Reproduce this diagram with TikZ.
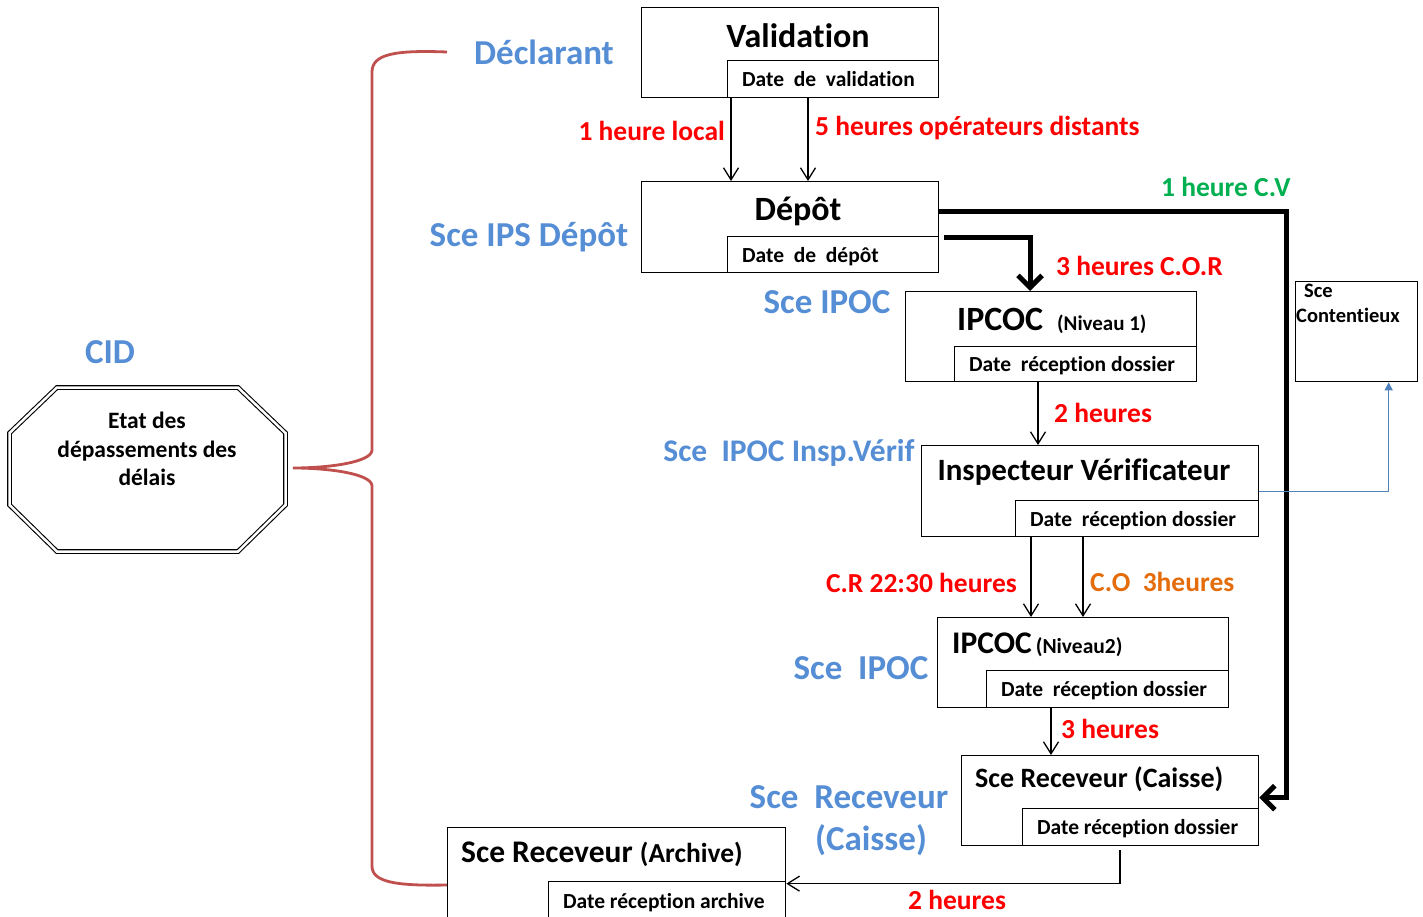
\documentclass[tikz,border=0pt]{standalone}
\usepackage{fontspec}
\setmainfont{Carlito}[Ligatures=NoCommon]
\usetikzlibrary{arrows.meta,positioning}

\definecolor{bracered}{RGB}{192,80,77}
\definecolor{servblue}{RGB}{85,142,213}
\definecolor{delayred}{RGB}{255,0,0}
\definecolor{cvgreen}{RGB}{0,176,80}
\definecolor{coorange}{RGB}{228,108,10}
\definecolor{linkblue}{RGB}{79,129,189}

\tikzset{
  box/.style={draw, line width=1.3pt, anchor=north west, inner sep=0pt},
  datebox/.style={draw, fill=white, line width=1.3pt, anchor=south east, inner xsep=14.5pt, inner ysep=0pt,
    align=flush left, text depth=0pt, font=\bfseries\fontsize{21.5}{24}\selectfont},
  boxtitle/.style={inner sep=0pt, font=\bfseries\fontsize{34}{40}\selectfont},
  service/.style={inner sep=0pt, text=servblue, font=\bfseries\fontsize{35}{40}\selectfont},
  delaylbl/.style={inner sep=0pt, text=delayred, font=\bfseries\fontsize{27.5}{32}\selectfont},
  flow/.style={->, line width=1.3pt},
  heavy/.style={-{Straight Barb[length=12pt,width=24pt]}, line width=5pt},
}

\begin{document}
\begin{tikzpicture}[x=1pt, y=-1pt, >={Straight Barb[length=12pt,width=15pt]}]
\useasboundingbox (0,0) rectangle (1423,917);

% left part: octagon and brace
\draw[double, double distance=2.5pt, line width=1.1pt] (57,387.5) -- (238,387.5) -- (285.5,433) -- (285.5,505) -- (238,551.5) -- (57,551.5) -- (9.5,505) -- (9.5,433) -- cycle;
\node[align=center, inner sep=0pt, font=\bfseries\fontsize{23.5}{28.5}\selectfont] (etat) at (147,449) {Etat des\\dépassements des\\délais};
\node[service] (cid) at (110,352) {CID};
\draw[bracered, line width=2.8pt] (447,52) .. controls (395,50) and (372,54) .. (372,72) -- (372,450) .. controls (372,462) and (330,468) .. (293,468) .. controls (330,468) and (372,474) .. (372,486) -- (372,866) .. controls (372,882) and (395,886) .. (447,885);

% service names
\node[service] (declarant) at (544,52) {Déclarant};
\node[service] (scedep) at (529,237) {Sce IPS Dépôt};
\node[service] (sceipoc) at (827,302) {Sce IPOC};
\node[service, font=\bfseries\fontsize{31.5}{36}\selectfont] (sceinsp) at (789,453) {Sce~~IPOC Insp.Vérif};
\node[service] (sceipoc2) at (861,668) {Sce~~IPOC};
\node[service] (scerec) at (849,797) {Sce~~Receveur};
\node[service] (scecaisse) at (871,840) {(Caisse)};

% boxes
\node[box, minimum width=297pt, minimum height=90pt] (val) at (641,7) {};
\node[datebox, text width=182pt, minimum height=37pt] (valdate) at (val.south east) {Date~~de~~validation};
\node[boxtitle] (valtitle) at (798,36) {Validation};

\node[box, minimum width=297pt, minimum height=91pt] (dep) at (641,181) {};
\node[datebox, text width=182pt, minimum height=36pt] (depdate) at (dep.south east) {Date~~de~~dépôt};
\node[boxtitle] (deptitle) at (798,211) {Dépôt};

\node[box, minimum width=291pt, minimum height=90pt] (ipc1) at (905,291) {};
\node[datebox, text width=213pt, minimum height=35pt] (ipc1date) at (ipc1.south east) {Date~~réception dossier};
\node[boxtitle, anchor=west] (ipc1title) at (957,321) {IPCOC\hspace{14pt}{\fontsize{21}{24}\selectfont(Niveau 1)}};

\node[box, minimum width=337pt, minimum height=91pt] (insp) at (921,445) {};
\node[datebox, text width=214pt, minimum height=36pt] (inspdate) at (insp.south east) {Date~~réception dossier};
\node[boxtitle, font=\bfseries\fontsize{31}{36}\selectfont] (insptitle) at (1084,472) {Inspecteur Vérificateur};

\node[box, minimum width=291pt, minimum height=90pt] (ipc2) at (937,617) {};
\node[datebox, text width=213pt, minimum height=37pt] (ipc2date) at (ipc2.south east) {Date~~réception dossier};
\node[boxtitle, anchor=west, font=\bfseries\fontsize{31.5}{36}\selectfont] (ipc2title) at (952,645) {IPCOC\hspace{4pt}{\fontsize{21.5}{24}\selectfont(Niveau2)}};

\node[box, minimum width=297pt, minimum height=90pt] (caisse) at (961,755) {};
\node[datebox, text width=207pt, minimum height=37pt] (caisdate) at (caisse.south east) {Date réception dossier};
\node[boxtitle, anchor=west, font=\bfseries\fontsize{28}{32}\selectfont] (caistitle) at (975,779) {Sce Receveur (Caisse)};

\node[box, minimum width=338pt, minimum height=92pt] (arch) at (447,827) {};
\node[datebox, text width=208pt, minimum height=38pt] (archdate) at (arch.south east) {Date réception archive};
\node[boxtitle, anchor=west, font=\bfseries\fontsize{31.5}{36}\selectfont] (archtitle) at (461,854) {Sce Receveur {\fontsize{27.5}{32}\selectfont(Archive)}};

\node[box, minimum width=122pt, minimum height=100pt] (cont) at (1295,281) {};
\node[anchor=north west, align=left, inner sep=0pt, font=\bfseries\fontsize{20.5}{25}\selectfont] (conttext) at (1296,284) {\hspace*{8pt}Sce\\Contentieux};

% delays
\node[delaylbl, anchor=east] (dlocal) at (725,131) {1 heure local};
\node[delaylbl, anchor=west] (ddist) at (815,128) {5 heures opérateurs distants};
\node[delaylbl, anchor=west, text=cvgreen] (dcv) at (1161,187) {1 heure C.V};
\node[delaylbl, anchor=west] (dcor) at (1056,266) {3 heures C.O.R};
\node[delaylbl, anchor=west] (dinsp) at (1054,413) {2 heures};
\node[delaylbl, anchor=east] (dcr) at (1017,583) {C.R 22:30 heures};
\node[delaylbl, anchor=west, text=coorange] (dco) at (1090,582) {C.O~~3heures};
\node[delaylbl, anchor=west] (dcaisse) at (1061,729) {3 heures};
\node[delaylbl, anchor=west] (darch) at (908,900) {2 heures};

% connectors
\draw[flow] ([xshift=4pt]valdate.south west) -- ([xshift=4pt]valdate.south west |- dep.north);
\draw[flow] ([xshift=81pt]valdate.south west) -- ([xshift=81pt]valdate.south west |- dep.north);
\draw[heavy] ([xshift=5pt,yshift=-2pt]depdate.north east) -| ([xshift=125pt]ipc1.north west);
\coordinate (cvturn) at (1286,212);
\draw[heavy] (dep.east |- cvturn) -- (cvturn) |- ([yshift=3pt]caisse.east);
\draw[flow] ([xshift=84pt]ipc1date.south west) -- ([xshift=84pt]ipc1date.south west |- insp.north);
\draw[linkblue, line width=1.3pt, -{Triangle[length=8pt,width=8pt]}] (insp.east) -| ([xshift=32pt]cont.south);
\draw[flow] ([xshift=16pt]inspdate.south west) -- ([xshift=16pt]inspdate.south west |- ipc2.north);
\draw[flow] ([xshift=68pt]inspdate.south west) -- ([xshift=68pt]inspdate.south west |- ipc2.north);
\draw[flow] ([xshift=65pt]ipc2date.south west) -- ([xshift=65pt]ipc2date.south west |- caisse.north);
\draw[flow] ([xshift=98pt,yshift=-4pt]caisdate.south west) |- ([yshift=-10pt]arch.east);
\end{tikzpicture}
\end{document}
